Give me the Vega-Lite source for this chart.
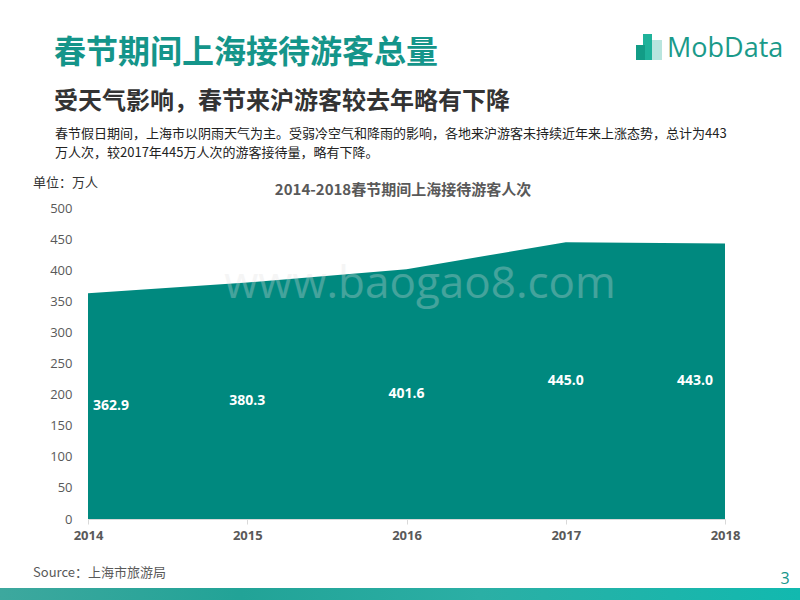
{
  "$schema": "https://vega.github.io/schema/vega-lite/v6.json",
  "width": 637,
  "height": 311,
  "autosize": {"type": "none"},
  "padding": {"left": 88, "top": 208, "right": 75, "bottom": 81},
  "background": "white",
  "config": {"view": {"stroke": null}, "font": "Noto Sans CJK SC"},
  "data": {"values": [
    {"year": 2014, "visitors": 362.9},
    {"year": 2015, "visitors": 380.3},
    {"year": 2016, "visitors": 401.6},
    {"year": 2017, "visitors": 445.0},
    {"year": 2018, "visitors": 443.0}
  ]},
  "layer": [
    {
      "transform": [{"calculate": "datum.visitors / 2", "as": "mid"}],
      "layer": [
        {
          "mark": {"type": "area", "color": "#00897F", "opacity": 1},
          "encoding": {
            "x": {"field": "year", "type": "quantitative", "scale": {"domain": [2014, 2018], "nice": false, "zero": false},
              "axis": {"title": null, "values": [2014, 2015, 2016, 2017, 2018], "format": "d", "grid": false,
                "domainColor": "#d9d9d9", "tickColor": "#d9d9d9", "tickSize": 5, "labelPadding": 5,
                "labelFont": "Open Sans", "labelFontWeight": "bold", "labelFontSize": 13, "labelColor": "#595959",
                "labelFlush": false, "labelOverlap": false}},
            "y": {"field": "visitors", "type": "quantitative", "scale": {"domain": [0, 500], "nice": false},
              "axis": {"title": null, "values": [0, 50, 100, 150, 200, 250, 300, 350, 400, 450, 500], "grid": false,
                "domain": false, "ticks": false, "labelPadding": 16, "labelFont": "Open Sans", "labelFontSize": 13,
                "labelColor": "#595959", "labelOverlap": false}}
          }
        },
        {
          "transform": [{"filter": "datum.year == 2014"}],
          "mark": {"type": "text", "align": "left", "dx": 5, "color": "white", "font": "Open Sans", "fontWeight": "bold", "fontSize": 14},
          "encoding": {
            "x": {"field": "year", "type": "quantitative",
              "axis": {"title": null, "values": [2014, 2015, 2016, 2017, 2018], "format": "d", "grid": false,
                "domainColor": "#d9d9d9", "tickColor": "#d9d9d9", "tickSize": 5, "labelPadding": 5,
                "labelFont": "Open Sans", "labelFontWeight": "bold", "labelFontSize": 13, "labelColor": "#595959",
                "labelFlush": false, "labelOverlap": false}},
            "y": {"field": "mid", "type": "quantitative",
              "axis": {"title": null, "values": [0, 50, 100, 150, 200, 250, 300, 350, 400, 450, 500], "grid": false,
                "domain": false, "ticks": false, "labelPadding": 16, "labelFont": "Open Sans", "labelFontSize": 13,
                "labelColor": "#595959", "labelOverlap": false}},
            "text": {"field": "visitors", "type": "quantitative", "format": ".1f"}
          }
        },
        {
          "transform": [{"filter": "datum.year > 2014 && datum.year < 2018"}],
          "mark": {"type": "text", "align": "center", "color": "white", "font": "Open Sans", "fontWeight": "bold", "fontSize": 14},
          "encoding": {
            "x": {"field": "year", "type": "quantitative",
              "axis": {"title": null, "values": [2014, 2015, 2016, 2017, 2018], "format": "d", "grid": false,
                "domainColor": "#d9d9d9", "tickColor": "#d9d9d9", "tickSize": 5, "labelPadding": 5,
                "labelFont": "Open Sans", "labelFontWeight": "bold", "labelFontSize": 13, "labelColor": "#595959",
                "labelFlush": false, "labelOverlap": false}},
            "y": {"field": "mid", "type": "quantitative",
              "axis": {"title": null, "values": [0, 50, 100, 150, 200, 250, 300, 350, 400, 450, 500], "grid": false,
                "domain": false, "ticks": false, "labelPadding": 16, "labelFont": "Open Sans", "labelFontSize": 13,
                "labelColor": "#595959", "labelOverlap": false}},
            "text": {"field": "visitors", "type": "quantitative", "format": ".1f"}
          }
        },
        {
          "transform": [{"filter": "datum.year == 2018"}],
          "mark": {"type": "text", "align": "right", "dx": -12, "color": "white", "font": "Open Sans", "fontWeight": "bold", "fontSize": 14},
          "encoding": {
            "x": {"field": "year", "type": "quantitative",
              "axis": {"title": null, "values": [2014, 2015, 2016, 2017, 2018], "format": "d", "grid": false,
                "domainColor": "#d9d9d9", "tickColor": "#d9d9d9", "tickSize": 5, "labelPadding": 5,
                "labelFont": "Open Sans", "labelFontWeight": "bold", "labelFontSize": 13, "labelColor": "#595959",
                "labelFlush": false, "labelOverlap": false}},
            "y": {"field": "mid", "type": "quantitative",
              "axis": {"title": null, "values": [0, 50, 100, 150, 200, 250, 300, 350, 400, 450, 500], "grid": false,
                "domain": false, "ticks": false, "labelPadding": 16, "labelFont": "Open Sans", "labelFontSize": 13,
                "labelColor": "#595959", "labelOverlap": false}},
            "text": {"field": "visitors", "type": "quantitative", "format": ".1f"}
          }
        }
      ]
    },
    {
      "data": {"values": [{}]},
      "layer": [
        {"mark": {"type": "text", "text": "www.baogao8.com", "x": 332, "y": 77, "align": "center", "baseline": "middle", "font": "Open Sans", "fontSize": 44, "color": "#e0e0e0", "opacity": 0.3},
         "encoding": {}},
        {"mark": {"type": "text", "text": "春节期间上海接待游客总量", "x": -34, "y": -155, "align": "left", "baseline": "middle", "fontSize": 32, "fontWeight": "bold", "color": "#14958A", "clip": false},
         "encoding": {}},
        {"mark": {"type": "text", "text": "受天气影响，春节来沪游客较去年略有下降", "x": -34, "y": -106, "align": "left", "baseline": "middle", "fontSize": 24, "fontWeight": "bold", "color": "#333333"},
         "encoding": {}},
        {"mark": {"type": "text", "text": ["春节假日期间，上海市以阴雨天气为主。受弱冷空气和降雨的影响，各地来沪游客未持续近年来上涨态势，总计为443", "万人次，较2017年445万人次的游客接待量，略有下降。"], "x": -33, "y": -74, "align": "left", "baseline": "middle", "lineHeight": 19, "fontSize": 13, "color": "#222222"},
         "encoding": {}},
        {"mark": {"type": "text", "text": "单位：万人", "x": -55, "y": -25, "align": "left", "baseline": "middle", "fontSize": 13, "color": "#333333"},
         "encoding": {}},
        {"mark": {"type": "text", "text": "2014-2018春节期间上海接待游客人次", "x": 315, "y": -18, "align": "center", "baseline": "middle", "fontSize": 15, "fontWeight": "bold", "color": "#595959"},
         "encoding": {}},
        {"mark": {"type": "text", "text": "Source：上海市旅游局", "x": -55, "y": 365, "align": "left", "baseline": "middle", "fontSize": 13, "color": "#595959"},
         "encoding": {}},
        {"mark": {"type": "text", "text": "3", "x": 697, "y": 371, "align": "center", "baseline": "middle", "font": "Open Sans", "fontSize": 16, "color": "#14958A"},
         "encoding": {}},
        {"mark": {"type": "text", "text": "MobData", "x": 579, "y": -159, "align": "left", "baseline": "middle", "font": "Open Sans", "fontSize": 27, "color": "#1A9A8A"},
         "encoding": {}},
        {"mark": {"type": "rect", "x": 562, "x2": 574, "y": -168, "y2": -148, "color": "#A8DED6", "opacity": 0.8}, "encoding": {}},
        {"mark": {"type": "rect", "x": 555, "x2": 564, "y": -174, "y2": -148, "color": "#1FB29A"}, "encoding": {}},
        {"mark": {"type": "rect", "x": 548, "x2": 557, "y": -163, "y2": -148, "color": "#129C86"}, "encoding": {}},
        {"mark": {"type": "rect", "x": -88, "x2": 712, "y": 380, "y2": 392,
          "color": {"gradient": "linear", "x1": 0, "x2": 1, "y1": 0, "y2": 0,
            "stops": [{"offset": 0, "color": "#3DA89E"}, {"offset": 0.3, "color": "#22A397"}, {"offset": 0.6, "color": "#2BAFA5"}, {"offset": 1, "color": "#12B9AF"}]}},
         "encoding": {}}
      ]
    }
  ]
}
